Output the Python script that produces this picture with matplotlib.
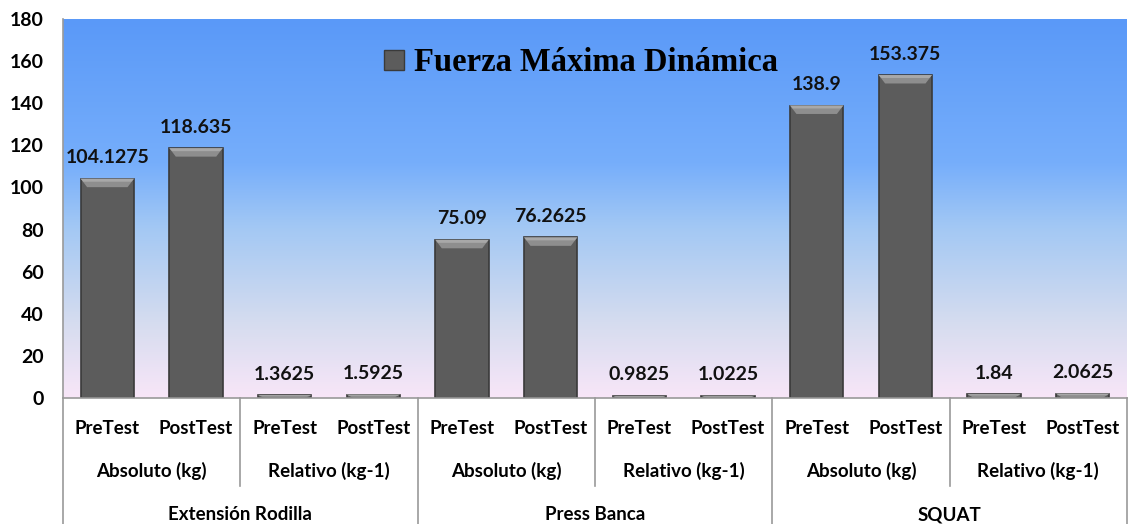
import numpy as np
import matplotlib
matplotlib.use("Agg")
import matplotlib.pyplot as plt
from matplotlib.colors import LinearSegmentedColormap
from matplotlib.patches import Patch
import matplotlib.transforms as mtransforms

# data
tests = ["PreTest", "PostTest"] * 6
measures = ["Absoluto (kg)", "Relativo (kg-1)"] * 3
exercises = ["Extensión Rodilla", "Press Banca", "SQUAT"]
values = [104.1275, 118.635, 1.3625, 1.5925,
          75.09, 76.2625, 0.9825, 1.0225,
          138.9, 153.375, 1.84, 2.0625]
value_labels = ["104.1275", "118.635", "1.3625", "1.5925",
                "75.09", "76.2625", "0.9825", "1.0225",
                "138.9", "153.375", "1.84", "2.0625"]
series_name = "Fuerza Máxima Dinámica"

plt.rcParams["font.family"] = ["Lato", "DejaVu Sans"]
plt.rcParams["font.weight"] = "bold"

W, H = 1132, 524
fig = plt.figure(figsize=(W / 100, H / 100), dpi=100)
left, right, top, bottom = 63, 1127, 19, 398
ax = fig.add_axes([left / W, (H - bottom) / H, (right - left) / W, (bottom - top) / H])

n = len(values)
x = np.arange(n)
ax.set_xlim(-0.5, n - 0.5)
ax.set_ylim(0, 180)

# background gradient: blue at the top fading to pale pink
cmap = LinearSegmentedColormap.from_list(
    "bg", [(0.0, "#f8e6f8"), (0.2, "#d5dcef"), (0.45, "#a3c8f4"),
           (0.62, "#76aefb"), (1.0, "#5a99f8")])
grad = np.linspace(0, 1, 256).reshape(-1, 1)
ax.imshow(grad, cmap=cmap, aspect="auto", origin="lower",
          extent=(-0.5, n - 0.5, 0, 180), zorder=0)

# bars with a bevelled top
bw = 0.6
ax.bar(x, values, width=bw, color="#5c5c5c", edgecolor="#3a3a3a", linewidth=1.2, zorder=2)
for xi, v in zip(x, values):
    c = min(v, 4.0)
    inset = bw * 0.12
    ax.fill([xi - bw / 2, xi + bw / 2, xi + bw / 2 - inset, xi - bw / 2 + inset],
            [v, v, v - c, v - c], color="#8e8e8e", lw=0, zorder=3)
    ax.fill([xi - bw / 2, xi + bw / 2, xi + bw / 2 - inset * 0.4, xi - bw / 2 + inset * 0.4],
            [v, v, v - c * 0.35, v - c * 0.35], color="#a8a8a8", lw=0, zorder=3)

for xi, v, lab in zip(x, values, value_labels):
    ax.annotate(lab, (xi, v), xytext=(0, 9), textcoords="offset points",
                ha="center", va="bottom", fontsize=14, fontweight="bold", color="#111111")

# axes styling
for s in ["top", "right", "bottom"]:
    ax.spines[s].set_visible(False)
ax.spines["left"].set_color("#9a9a9a")
ax.spines["left"].set_linewidth(1.2)
ax.set_yticks(range(0, 181, 20))
ax.tick_params(axis="y", length=0, pad=14, labelsize=14)
for t in ax.get_yticklabels():
    t.set_fontweight("bold")
ax.set_xticks([])

# multi-level category axis
trans = mtransforms.blended_transform_factory(ax.transData, ax.transAxes)
ph = bottom - top
def yfrac(py):
    return (bottom - py) / ph

line_kw = dict(color="#9a9a9a", linewidth=1.2, transform=trans, clip_on=False)
ax.plot([-0.5, n - 0.5], [0, 0], **line_kw)
for i in range(n // 2 + 1):
    xb = -0.5 + 2 * i
    end = yfrac(524) if i % 2 == 0 else yfrac(486)
    ax.plot([xb, xb], [0, end], **line_kw)

for xi, t in zip(x, tests):
    ax.text(xi, yfrac(428), t, transform=trans, ha="center", va="center",
            fontsize=13.5, fontweight="bold", clip_on=False)
for i, m in enumerate(measures):
    ax.text(2 * i + 0.5, yfrac(471), m, transform=trans, ha="center", va="center",
            fontsize=13.5, fontweight="bold", clip_on=False)
for i, e in enumerate(exercises):
    ax.text(4 * i + 1.5, yfrac(515), e, transform=trans, ha="center", va="center",
            fontsize=13.5, fontweight="bold", clip_on=False)

# legend used as a title
handle = Patch(facecolor="#5c5c5c", edgecolor="#3a3a3a")
leg = ax.legend([handle], [series_name], loc="center", bbox_to_anchor=(0.487, 0.884),
                frameon=False, handlelength=0.6, handleheight=0.6, handletextpad=0.3,
                prop={"family": ["Liberation Serif", "DejaVu Serif"], "weight": "bold", "size": 23.5})

fig.savefig("out.png", dpi=100, facecolor="white")
